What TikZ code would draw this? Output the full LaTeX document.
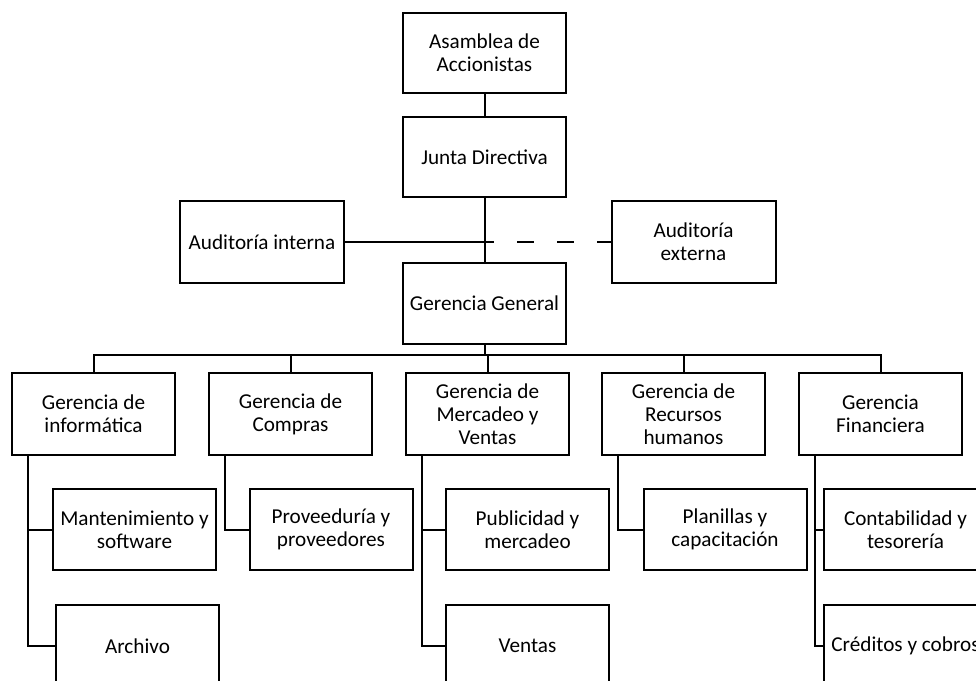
\documentclass[tikz,border=0pt]{standalone}
\usepackage{fontspec}
\setmainfont{Carlito}
\begin{document}
\begin{tikzpicture}[x=0.75pt,y=-0.75pt,
  box/.style={draw, line width=1.5pt, minimum width=122.25pt, minimum height=61pt,
    inner sep=0pt, align=center, font=\fontsize{15.9}{17.25}\selectfont},
  conn/.style={line width=1.5pt}]
\useasboundingbox (0,0) rectangle (976,681);
\clip (0,0) rectangle (976,681);
% top chain
\node[box, minimum height=60pt] (asam) at (484.5,53) {Asamblea de\\Accionistas};
\node[box, minimum height=60pt] (junta) at (484.5,157) {Junta Directiva};
\node[box, minimum width=123pt] (audint) at (262,242) {Auditoría interna};
\node[box, minimum width=123pt] (audext) at (693.5,242) {Auditoría\\externa};
\node[box, minimum height=60.75pt] (gg) at (484.5,303.5) {Gerencia General};
% second level
\node[box] (inf) at (93.5,414) {Gerencia de\\informática};
\node[box] (comp) at (290.5,414) {Gerencia de\\Compras};
\node[box] (merc) at (487.5,414) {Gerencia de\\Mercadeo y\\Ventas};
\node[box] (rrhh) at (683.5,414) {Gerencia de\\Recursos\\humanos};
\node[box] (fin) at (880.5,414) {Gerencia\\Financiera};
% third level
\node[box] (mant) at (134.5,529.5) {Mantenimiento y\\software};
\node[box] (prov) at (331,529.5) {Proveeduría y\\proveedores};
\node[box] (pub) at (527.5,529.5) {Publicidad y\\mercadeo};
\node[box] (plan) at (725,529.5) {Planillas y\\capacitación};
\node[box] (cont) at (905.5,529.5) {Contabilidad y\\tesorería};
\node[box] (arch) at (137.5,646) {Archivo};
\node[box] (vent) at (527.5,646) {Ventas};
\node[box] (cred) at (905.5,646) {Créditos y cobros};
% connectors
\draw[conn] (asam) -- (junta);
\draw[conn] (junta) -- (gg);
\coordinate (cross) at (junta.south |- audint.east);
\draw[conn] (audint.east) -- (cross);
\draw[conn, dash pattern=on 12.75pt off 17.25pt, dash phase=2.25pt] (audext.west) -- (cross);
\path (inf.north) ++(0,-17) coordinate (bl);
\draw[conn] (inf.north) -- (bl) -| (fin.north);
\foreach \n in {comp,merc,rrhh} \draw[conn] (\n.north) -- (\n.north |- bl);
\draw[conn] (gg.south) -- (gg.south |- bl);
\foreach \p/\c in {inf/mant,inf/arch,comp/prov,merc/pub,merc/vent,rrhh/plan,fin/cont,fin/cred}
  \draw[conn] ([xshift=12.75pt]\p.south west) |- (\c.west);
\end{tikzpicture}
\end{document}
